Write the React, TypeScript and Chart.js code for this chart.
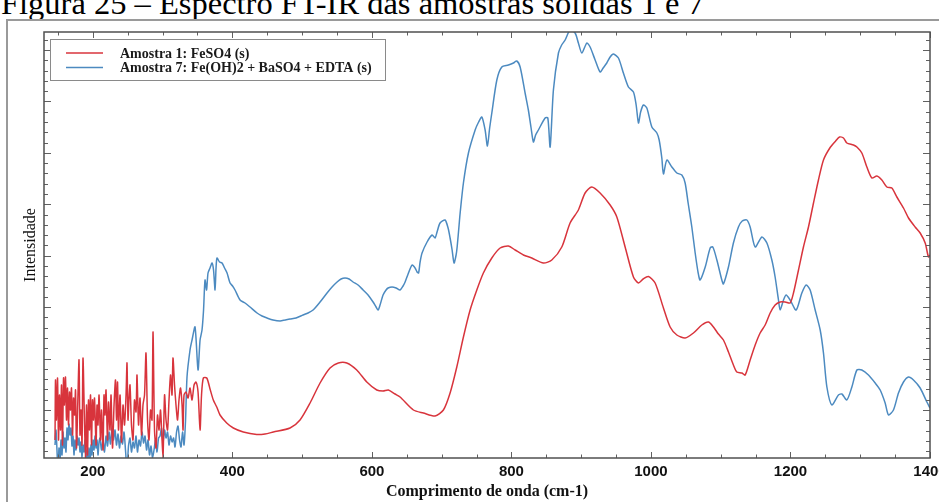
import React, { useEffect, useRef } from 'react';
import { Chart, registerables } from 'chart.js';

Chart.register(...registerables);

const CAPTION = 'Figura 25 – Espectro FT-IR das amostras sólidas 1 e 7';
const X_TITLE = 'Comprimento de onda (cm-1)';
const Y_TITLE = 'Intensidade';
const SERIES_LABELS = ['Amostra 1: FeSO4 (s)', 'Amostra 7: Fe(OH)2 + BaSO4 + EDTA (s)'];
const X_TICK_LABELS = [200, 400, 600, 800, 1000, 1200, 1400];
const X_RANGE = [130, 1400];
const Y_RANGE = [0, 426];

// Amostra 1 (red)
const redWavenumber = [
  145.8, 146.5, 147.9, 149.4, 150.8, 152.2, 153.7, 155.1, 156.5, 158, 159.4, 160.8, 162.3, 163.7, 165.1, 166.6,
  168, 169.4, 170.9, 172.3, 173.7, 175.2, 176.6, 178.7, 180.2, 181.6, 183, 184.5, 185.9, 188.1, 189.5, 190.9,
  192.4, 193.8, 195.2, 196.7, 198.1, 199.5, 201, 202.4, 204.6, 206, 207.4, 208.9, 211, 212.4, 214.6, 216,
  217.5, 218.9, 221, 222.5, 224.6, 226.1, 228.2, 230.4, 232.5, 233.9, 235.4, 236.8, 239, 241.1, 243.3, 245.4,
  247.6, 249, 250.4, 251.9, 253.3, 255.4, 257.6, 259.7, 261.9, 263.3, 265.5, 267.6, 269.8, 271.9, 274.1, 276.2,
  278.4, 280.5, 282.7, 284.8, 286.3, 288.4, 290.6, 292.7, 294.9, 297, 299.2, 300.6, 302.8, 304.9, 307.1, 309.2,
  311.4, 313.5, 314.9, 317.1, 319.2, 321.4, 323.5, 325.7, 327.9, 329.3, 330.7, 333.6, 336.5, 339.3, 342.2, 345.1,
  347.9, 350.8, 353.7, 355.8, 358.4, 363.3, 368, 372.7, 377.6, 382.3, 391.9, 401.4, 415.7, 434.9, 446.8, 458.7,
  482.7, 497, 511.4, 525.7, 540, 551.9, 564, 578.3, 592.7, 607, 616, 623.6, 633.2, 640.4, 659.5, 673.8,
  690.6, 702.5, 712.1, 721.7, 731.2, 740.8, 750.4, 759.8, 771.9, 783.8, 795.7, 805.3, 817.2, 829.2, 845.8, 857.9,
  872.2, 884.1, 896, 905.6, 915.2, 927.1, 941.5, 951.1, 963, 974.9, 982.1, 988.8, 996.4, 1006, 1017.9, 1027.5,
  1037.1, 1049, 1060.9, 1072.9, 1082.4, 1089.6, 1096.7, 1103.9, 1111.1, 1118.2, 1123.1, 1130.3, 1135, 1142.2, 1149.4, 1156.5,
  1163.7, 1170.9, 1178, 1185.2, 1192.4, 1199.5, 1204.3, 1211.5, 1218.6, 1225.8, 1233, 1240.1, 1247.3, 1256.4, 1264.8, 1270.3,
  1276, 1280.8, 1290.3, 1295.2, 1302.3, 1309.5, 1316.7, 1323.8, 1331, 1338.2, 1345.3, 1352.5, 1362, 1369.2, 1378.7, 1385.9,
  1393.1, 1397.8, 1400,
];
const redIntensity = [
  18, 78, 38, 80, 18, 63, 28, 73, 13, 80, 53, 81, 38, 70, 33, 66,
  48, 70, 23, 60, 43, 68, 10, 63, 98, 23, 48, 13, 100, 33, 0, 53,
  3, 58, 28, 63, 13, 58, 38, 60, 13, 53, 33, 63, 18, 48, 8, 63,
  43, 68, 18, 56, 28, 63, 10, 53, 78, 38, 76, 28, 63, 16, 53, 33,
  63, 95, 38, 60, 73, 33, 18, 58, 46, 83, 33, 60, 23, 53, 63, 105,
  38, 18, 48, 38, 126, 28, 10, 43, 28, 48, 18, 0, 63, 38, 28, 58,
  83, 63, 100, 73, 53, 38, 58, 70, 53, 28, 63, 66, 60, 70, 58, 73,
  76, 66, 28, 63, 80, 80, 69, 58, 51, 43, 35, 30, 26, 23.5, 24, 26,
  30, 38, 55, 75, 90, 95, 95, 88, 76, 68, 67, 68, 64, 61, 48, 45,
  42, 48, 65, 91, 121, 148, 168, 185, 200, 210, 212, 208, 203, 200, 195, 198,
  211, 235, 248, 265, 271, 265, 253, 241, 211, 181, 175, 179, 181.5, 175, 150, 131,
  123, 120, 125, 133, 136, 131, 124, 118, 106, 93, 86, 85, 83, 98, 113, 125,
  133, 145, 153, 156, 156, 155, 165, 188, 211, 231, 255, 278, 298, 310, 317, 321,
  320, 315, 313, 311, 305, 291, 280, 282, 278, 271, 270, 261, 250, 240, 231, 225,
  215, 201, 203,
];

// Amostra 7 (blue)
const blueWavenumber = [
  145.8, 147.2, 148.6, 150.1, 151.5, 152.9, 154.4, 155.8, 157.2, 158.7, 160.1, 161.5, 163, 164.4, 165.8, 167.3,
  168.7, 170.1, 171.6, 173, 174.4, 175.9, 177.3, 178.7, 180.2, 181.6, 183, 184.5, 185.9, 187.3, 188.8, 190.2,
  191.6, 193.1, 194.5, 196, 197.4, 198.8, 200.3, 201.7, 203.1, 204.6, 206, 207.4, 208.9, 210.3, 212.4, 214.6,
  216.7, 218.9, 221, 223.2, 225.3, 227.5, 229.6, 231.8, 233.9, 236.1, 238.2, 240.4, 242.5, 244.7, 246.8, 249,
  251.1, 253.3, 255.4, 257.6, 259.7, 261.9, 264, 266.2, 268.3, 270.5, 272.7, 274.8, 277, 279.1, 281.3, 283.4,
  285.6, 287.7, 289.9, 292, 294.2, 296.3, 298.5, 300.6, 302.8, 304.9, 307.1, 309.2, 311.4, 313.5, 315.7, 317.8,
  320, 322.1, 324.3, 326.4, 328.6, 330.7, 332.9, 335, 339.3, 342.2, 346.5, 350.8, 353.7, 356.5, 358.7, 360.8,
  363, 365.1, 368, 370.9, 373, 375.2, 376.6, 378, 381.6, 385.2, 388.8, 392.4, 396.7, 400.3, 403.8, 411,
  418.2, 425.3, 435.4, 442.5, 449.7, 458.3, 468.4, 475.5, 482.7, 491.3, 501.3, 508.5, 515.7, 525.7, 535.7, 542.9,
  550.1, 555.8, 561.5, 567.3, 573, 580.2, 587.4, 594.5, 601.7, 606, 608.9, 611.7, 616, 620.3, 623.2, 628.9,
  634.7, 640.4, 644.7, 647.6, 651.9, 657.6, 661.9, 664.8, 666.9, 669.1, 671.9, 679.1, 686.3, 690.6, 693.4, 697.7,
  704.9, 709.2, 712.1, 715, 717.8, 720.7, 722.2, 725, 726.5, 731.2, 738.4, 748, 753, 757.6, 762.3, 765.6,
  768.8, 771.9, 779.1, 786.2, 795.7, 802.9, 807.7, 812.5, 819.6, 824.3, 828.2, 831.5, 834.7, 838.7, 848.3, 852.2,
  855.5, 860.2, 867.4, 872, 877, 884.1, 891.3, 896, 900.9, 908.1, 912.8, 920, 927.1, 931.5, 936.7, 941.5,
  946.2, 953.4, 960.5, 967.7, 974.9, 978.8, 982.1, 985.2, 989.2, 994.1, 1001.3, 1008.5, 1011.8, 1015.6, 1017.9, 1022.8,
  1030, 1037.1, 1044.3, 1049, 1053.3, 1058.6, 1063.4, 1067.7, 1070.5, 1077.8, 1084.9, 1088.7, 1094.5, 1101.6, 1103.9, 1111.1,
  1118.2, 1125.4, 1130.8, 1137.5, 1142.2, 1149.4, 1159, 1166.2, 1173.3, 1178, 1182.8, 1185.2, 1190, 1193.8, 1199.5, 1208.1,
  1216.3, 1222.5, 1228.2, 1235.4, 1242.6, 1247.3, 1252.2, 1259.3, 1268.8, 1273.7, 1280.8, 1288, 1295.2, 1302.3, 1311.8, 1321.4,
  1328.6, 1335.7, 1340.5, 1347.6, 1354.8, 1362, 1369.2, 1376.3, 1385.9, 1395.5, 1400,
];
const blueIntensity = [
  13, 28, 8, -12, 10, -4, 18, 3, 26, 10, 20, 6, 30, 18, 34, 23,
  30, 12, 22, 3, 18, 8, 22, 13, 20, 6, 16, 0, 13, 6, 18, -7,
  8, -12, 10, -4, 13, 3, 18, 8, 22, 10, 18, 3, 16, 20, 8, 18,
  6, 22, 12, 26, 14, 30, 18, 28, 13, 24, 10, 22, 14, 26, 8, -12,
  12, 20, 6, 16, 10, 22, 6, 18, 12, 26, 15, 22, 8, 18, 3, 12,
  0, 8, 18, 6, 20, 22, 30, 16, 28, 20, 26, 13, 22, 16, 20, 11,
  26, 32, 18, 11, 26, 13, 38, 81, 108, 118, 131, 88, 118, 128, 148, 178,
  168, 185, 190, 195, 188, 168, 190, 200, 196, 195, 190, 185, 175, 172, 168, 158,
  155, 151, 145, 142, 140, 138, 137, 138, 139, 140, 143, 145, 148, 156, 165, 171,
  176, 179, 180, 179, 176, 173, 168, 163, 156, 151, 148, 153, 163, 168, 170, 171,
  170, 168, 172, 176, 184, 193, 190, 186, 185, 196, 205, 216, 223, 220, 226, 235,
  238, 230, 220, 208, 195, 203, 211, 233, 245, 275, 305, 328, 336, 341, 328, 312,
  330, 345, 378, 391, 393, 395, 397, 391, 365, 348, 330, 316, 323, 328, 340, 340,
  311, 368, 405, 413, 418, 428, 425, 415, 405, 415, 411, 398, 386, 390, 395, 401,
  404, 400, 385, 371, 366, 353, 335, 346, 353, 350, 331, 325, 318, 300, 284, 298,
  291, 285, 283, 275, 255, 231, 205, 185, 178, 191, 210, 211, 198, 178, 174, 191,
  215, 231, 237, 238, 231, 211, 221, 215, 198, 181, 158, 148, 158, 163, 158, 148,
  165, 173, 168, 148, 128, 105, 71, 53, 63, 64, 58, 71, 88, 88, 83, 75,
  68, 55, 43, 48, 65, 76, 81, 78, 70, 56, 50,
];

const RED = '#d8343c';
const BLUE = '#4c8ac0';

const frameTicksLegend = {
  id: 'frameTicksLegend',
  afterDraw(chart: any) {
    const { ctx, chartArea } = chart;
    const { left, right, top, bottom } = chartArea;
    const xs = chart.scales.x;
    const ys = chart.scales.y;
    ctx.save();
    // x ticks (every 50, long every 200)
    ctx.strokeStyle = '#606060';
    ctx.lineWidth = 1;
    for (let v = 150; v <= xs.max + 0.001; v += 50) {
      const p = Math.round(xs.getPixelForValue(v)) + 0.5;
      const len = v % 200 === 0 ? 6 : 3.5;
      ctx.beginPath();
      ctx.moveTo(p, bottom);
      ctx.lineTo(p, bottom - len);
      ctx.moveTo(p, top);
      ctx.lineTo(p, top + len);
      ctx.stroke();
    }
    // y ticks
    const step = 10.286;
    for (let j = 0; j < 45; j++) {
      const v = 6.86 + j * step;
      if (v > ys.max) break;
      const p = Math.round(ys.getPixelForValue(v)) + 0.5;
      const len = (j - 4) % 5 === 0 ? 7 : 4;
      ctx.beginPath();
      ctx.moveTo(left, p);
      ctx.lineTo(left + len, p);
      ctx.moveTo(right, p);
      ctx.lineTo(right - len, p);
      ctx.stroke();
    }
    // frame
    ctx.strokeStyle = '#505050';
    ctx.lineWidth = 1.5;
    ctx.strokeRect(left, top, right - left, bottom - top);

    // legend
    const bx = left + 6.5;
    const by = top + 7.5;
    ctx.strokeStyle = '#8a8a8a';
    ctx.lineWidth = 1;
    ctx.fillStyle = '#ffffff';
    ctx.fillRect(bx, by, 335, 41);
    ctx.strokeRect(bx, by, 335, 41);
    ctx.font = 'bold 14px "Liberation Serif", serif';
    ctx.textBaseline = 'middle';
    ctx.textAlign = 'left';
    chart.data.datasets.forEach((ds: any, i: number) => {
      const yy = by + 13.5 + i * 14.5;
      ctx.strokeStyle = ds.borderColor;
      ctx.lineWidth = 1.5;
      ctx.beginPath();
      ctx.moveTo(bx + 15.5, yy);
      ctx.lineTo(bx + 52.5, yy);
      ctx.stroke();
      ctx.fillStyle = '#1a1a1a';
      ctx.fillText(ds.label, bx + 69.5, yy + 1);
    });
    ctx.restore();
  },
};

export default function App() {
  const ref = useRef<HTMLCanvasElement>(null);
  useEffect(() => {
    if (!ref.current) return;
    const chart = new Chart(ref.current, {
      type: 'line',
      data: {
        datasets: [
          {
            label: SERIES_LABELS[0],
            data: redWavenumber.map((x, i) => ({ x, y: redIntensity[i] })),
            borderColor: RED,
            backgroundColor: RED,
          },
          {
            label: SERIES_LABELS[1],
            data: blueWavenumber.map((x, i) => ({ x, y: blueIntensity[i] })),
            borderColor: BLUE,
            backgroundColor: BLUE,
          },
        ],
      },
      options: {
        animation: false,
        responsive: false,
        devicePixelRatio: 1,
        layout: { padding: { left: 17, top: 32, right: 70, bottom: 2.8 } },
        elements: {
          point: { radius: 0 },
          line: { borderWidth: 1.5, tension: 0.25 },
        },
        plugins: {
          legend: { display: false },
          tooltip: { enabled: false },
        },
        scales: {
          x: {
            type: 'linear',
            min: X_RANGE[0],
            max: X_RANGE[1],
            grid: { display: false, drawTicks: false },
            border: { display: false },
            afterBuildTicks: (axis: any) => {
              axis.ticks = X_TICK_LABELS.map((v) => ({ value: v }));
            },
            ticks: {
              autoSkip: false,
              maxRotation: 0,
              padding: 6.5,
              color: '#111',
              font: { family: '"Liberation Sans", sans-serif', size: 15, weight: 'bold', lineHeight: 1 },
              callback: (v: any) => String(v),
            },
            title: {
              display: true,
              text: X_TITLE,
              color: '#111',
              font: { family: '"Liberation Serif", serif', size: 16, weight: 'bold', lineHeight: 0.7 },
              padding: { top: 0, bottom: 2 },
            },
          },
          y: {
            type: 'linear',
            min: Y_RANGE[0],
            max: Y_RANGE[1],
            grid: { display: false, drawTicks: false },
            border: { display: false },
            ticks: { display: false },
            title: {
              display: true,
              text: Y_TITLE,
              color: '#111',
              font: { family: '"Liberation Serif", serif', size: 16, lineHeight: 1.25 },
              padding: { top: 4, bottom: 3 },
            },
          },
        },
      },
      plugins: [frameTicksLegend],
    } as any);
    return () => chart.destroy();
  }, []);

  return (
    <div style={{ position: 'absolute', left: 0, top: 0, width: 939, height: 502, overflow: 'hidden', background: '#fff' }}>
      <div
        style={{
          position: 'absolute',
          left: 1,
          top: -13,
          fontFamily: '"Liberation Serif", serif',
          fontSize: 32.5,
          lineHeight: '32px',
          whiteSpace: 'nowrap',
          color: '#000',
        }}
      >
        {CAPTION}
      </div>
      <div
        style={{
          position: 'absolute',
          left: 6,
          top: 19,
          width: 1000,
          height: 600,
          border: '2px solid #9a9a9a',
          boxSizing: 'border-box',
        }}
      />
      <canvas ref={ref} width={1000} height={502} style={{ position: 'absolute', left: 0, top: 0, width: 1000, height: 502 }} />
    </div>
  );
}
